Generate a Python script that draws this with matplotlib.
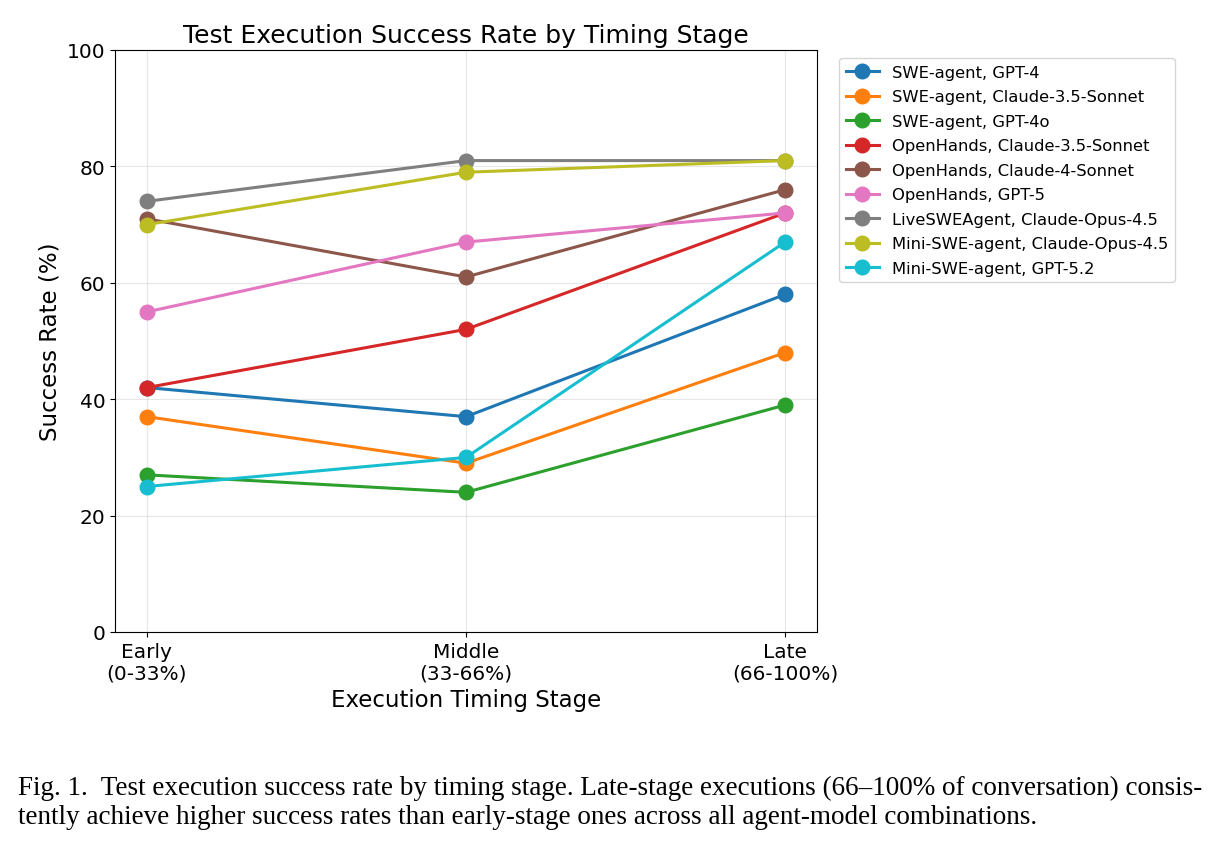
import matplotlib
matplotlib.use("Agg")
import matplotlib.pyplot as plt

# stages on the x axis
stages = ["Early\n(0-33%)", "Middle\n(33-66%)", "Late\n(66-100%)"]

# agent-model combinations and success rates (%) per stage
labels = [
    "SWE-agent, GPT-4",
    "SWE-agent, Claude-3.5-Sonnet",
    "SWE-agent, GPT-4o",
    "OpenHands, Claude-3.5-Sonnet",
    "OpenHands, Claude-4-Sonnet",
    "OpenHands, GPT-5",
    "LiveSWEAgent, Claude-Opus-4.5",
    "Mini-SWE-agent, Claude-Opus-4.5",
    "Mini-SWE-agent, GPT-5.2",
]
swe_gpt4 = [42, 37, 58]
swe_claude35 = [37, 29, 48]
swe_gpt4o = [27, 24, 39]
oh_claude35 = [42, 52, 72]
oh_claude4 = [71, 61, 76]
oh_gpt5 = [55, 67, 72]
live_opus45 = [74, 81, 81]
mini_opus45 = [70, 79, 81]
mini_gpt52 = [25, 30, 67]

series = [swe_gpt4, swe_claude35, swe_gpt4o, oh_claude35, oh_claude4,
          oh_gpt5, live_opus45, mini_opus45, mini_gpt52]
colors = ["#1f77b4", "#ff7f0e", "#2ca02c", "#d62728", "#8c564b",
          "#e377c2", "#7f7f7f", "#bcbd22", "#17becf"]

fig = plt.figure(figsize=(12.18, 8.45), dpi=100)
ax = fig.add_axes([115 / 1218, 1 - 633 / 845, (817 - 115) / 1218, (633 - 51) / 845])

x = list(range(len(stages)))
for vals, lab, c in zip(series, labels, colors):
    ax.plot(x, vals, marker="o", markersize=10.5, linewidth=2.2, color=c, label=lab)

ax.set_xlim(-0.1, 2.1)
ax.set_ylim(0, 100)
ax.set_xticks(x)
ax.set_xticklabels(stages, fontsize=14.5)
ax.set_yticks([0, 20, 40, 60, 80, 100])
ax.tick_params(axis="y", labelsize=14.5)
ax.grid(True, alpha=0.3)
ax.set_xlabel("Execution Timing Stage", fontsize=16.5)
ax.set_ylabel("Success Rate (%)", fontsize=16.5)
ax.set_title("Test Execution Success Rate by Timing Stage", fontsize=18)

ax.legend(loc="upper left", bbox_to_anchor=(1.02, 1.0), fontsize=11.8,
          labelspacing=0.58, borderaxespad=0.5)

# figure caption below the chart
caption = ("Fig. 1.  Test execution success rate by timing stage. Late-stage executions "
           "(66\u2013100% of conversation) consis-\n"
           "tently achieve higher success rates than early-stage ones across all "
           "agent-model combinations.")
fig.text(18 / 1218, 1 - 776 / 845, caption, family="Liberation Serif",
         fontsize=19.5, va="top", ha="left", linespacing=1.2)

fig.savefig("out.png", dpi=100)
